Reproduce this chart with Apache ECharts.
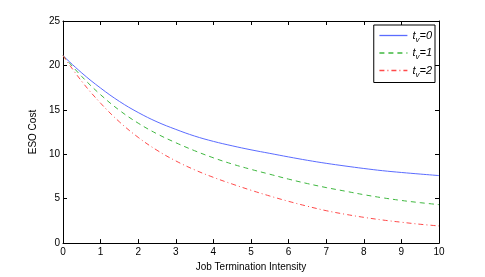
<!DOCTYPE html>
<html><head><meta charset="utf-8">
<script src="https://cdn.jsdelivr.net/npm/echarts@6/dist/echarts.min.js"></script>
<style>html,body{margin:0;padding:0;background:#fff}#c{width:485px;height:277px}</style>
</head><body><div id="c"></div>
<script>
const xs = [0,0.5,1,1.5,2,2.5,3,3.5,4,4.5,5,5.5,6,6.5,7,7.5,8,8.5,9,9.5,10];
const tv0 = [21.1,19.15,17.45,15.95,14.7,13.65,12.8,12.05,11.45,10.95,10.5,10.1,9.7,9.32,8.98,8.68,8.4,8.15,7.95,7.77,7.6];
const tv1 = [21.1,18.75,16.7,14.95,13.5,12.3,11.3,10.4,9.6,8.9,8.3,7.75,7.2,6.7,6.25,5.85,5.45,5.1,4.8,4.55,4.33];
const tv2 = [21.1,18.2,15.75,13.65,11.9,10.45,9.25,8.25,7.4,6.65,5.95,5.3,4.7,4.15,3.65,3.25,2.9,2.6,2.35,2.12,1.93];
const names = ['t_v=0','t_v=1','t_v=2'];
const xTicks = [0,1,2,3,4,5,6,7,8,9,10];
const yTicks = [0,5,10,15,20,25];

const font = 'Liberation Sans, Arial, sans-serif';
const pair = arr => xs.map((x,i)=>[x,arr[i]]);
const chart = echarts.init(document.getElementById('c'), null, {renderer:'canvas'});
const axisCommon = {
  axisLine:{show:true,onZero:false,lineStyle:{color:'#000',width:1}},
  axisTick:{show:true,inside:true,length:4,lineStyle:{color:'#000'}},
  splitLine:{show:false}
};
chart.setOption({
  animation:false,
  backgroundColor:'#fff',
  grid:{left:63,right:46,top:21,bottom:31},
  legend:{
    orient:'vertical', right:50, top:25,
    backgroundColor:'#fff', borderColor:'#000', borderWidth:1,
    padding:[5,3,4,5], itemGap:4, itemWidth:28, itemHeight:12,
    itemStyle:{opacity:0},
    lineStyle:{width:1.3},
    data:names,
    formatter: n => '{i|t}{s|v}{n|' + n.slice(3) + '}',
    textStyle:{
      fontFamily:font, fontSize:11, color:'#000',
      rich:{
        i:{fontFamily:font,fontStyle:'italic',fontSize:11,color:'#000'},
        s:{fontFamily:font,fontStyle:'italic',fontSize:8,color:'#000',verticalAlign:'bottom',padding:[8,0,0,0]},
        n:{fontFamily:font,fontStyle:'italic',fontSize:11,color:'#000'}
      }
    }
  },
  xAxis:[
    Object.assign({type:'value',min:0,max:10,interval:1,position:'bottom',
      name:'Job Termination Intensity',nameLocation:'middle',nameGap:18,
      nameTextStyle:{fontFamily:font,fontSize:10,color:'#000'},
      axisLabel:{fontFamily:font,fontSize:10,color:'#000',margin:4,formatter:v=>xTicks.includes(v)?String(v):''}},axisCommon),
    Object.assign({type:'value',min:0,max:10,interval:1,position:'top',axisLabel:{show:false}},axisCommon)
  ],
  yAxis:[
    Object.assign({type:'value',min:0,max:25,interval:5,position:'left',
      name:'ESO Cost',nameLocation:'middle',nameGap:17,
      nameTextStyle:{fontFamily:font,fontSize:10,color:'#000'},
      axisLabel:{fontFamily:font,fontSize:10,color:'#000',margin:3,formatter:v=>yTicks.includes(v)?String(v):''}},axisCommon),
    Object.assign({type:'value',min:0,max:25,interval:5,position:'right',axisLabel:{show:false}},axisCommon)
  ],
  series:[
    {name:names[0],type:'line',smooth:0.4,showSymbol:false,symbol:'none',data:pair(tv0),
     lineStyle:{color:'#5b6cff',width:1,type:'solid'},itemStyle:{color:'#5b6cff'}},
    {name:names[1],type:'line',smooth:0.4,showSymbol:false,symbol:'none',data:pair(tv1),
     lineStyle:{color:'#3fb83f',width:1,type:[5,4]},itemStyle:{color:'#3fb83f'}},
    {name:names[2],type:'line',smooth:0.4,showSymbol:false,symbol:'none',data:pair(tv2),
     lineStyle:{color:'#ff4a4a',width:1,type:[5,3,1,3]},itemStyle:{color:'#ff4a4a'}}
  ]
});
</script></body></html>
